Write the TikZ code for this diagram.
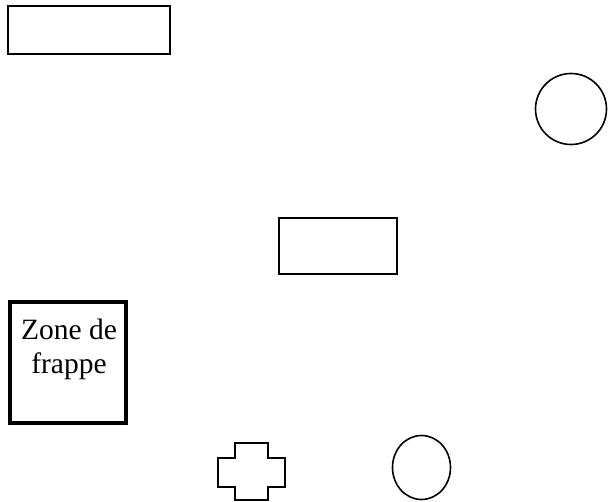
\documentclass[tikz,border=0pt]{standalone}
\usepackage{fontspec}
\setmainfont{Liberation Serif}
\usetikzlibrary{shapes.geometric}
\tikzset{
  boite/.style={draw, line width=#1, rectangle, inner sep=0pt},
  boite/.default=2pt,
  rond/.style={draw, line width=1.6pt, ellipse, inner sep=0pt},
}
\begin{document}
\begin{tikzpicture}[x=1pt,y=-1pt]
  \useasboundingbox (0,0) rectangle (608,502);
  % rectangles
  \node[boite, minimum width=162pt, minimum height=48pt] (haut) at (89,30) {};
  \node[boite, minimum width=118pt, minimum height=56pt] (milieu) at (338,246) {};
  % zone de frappe
  \node[boite=4.5pt, minimum width=116pt, minimum height=121pt] (zone) at (68,362.5) {};
  \node[anchor=north, align=center, inner sep=0pt,
        font=\fontsize{29.5}{34}\selectfont] (zonetxt) at (69,319) {Zone de\\frappe};
  % cercles
  \node[rond, minimum width=71pt, minimum height=71pt] (cercle) at (571,109) {};
  \node[rond, minimum width=58pt, minimum height=64pt] (ovale) at (421.5,467.5) {};
  % croix
  \draw[line width=1.6pt] (235,443) -- (268,443) -- (268,458) -- (285,458) -- (285,487)
    -- (268,487) -- (268,500) -- (235,500) -- (235,487) -- (218,487) -- (218,458)
    -- (235,458) -- cycle;
\end{tikzpicture}
\end{document}
